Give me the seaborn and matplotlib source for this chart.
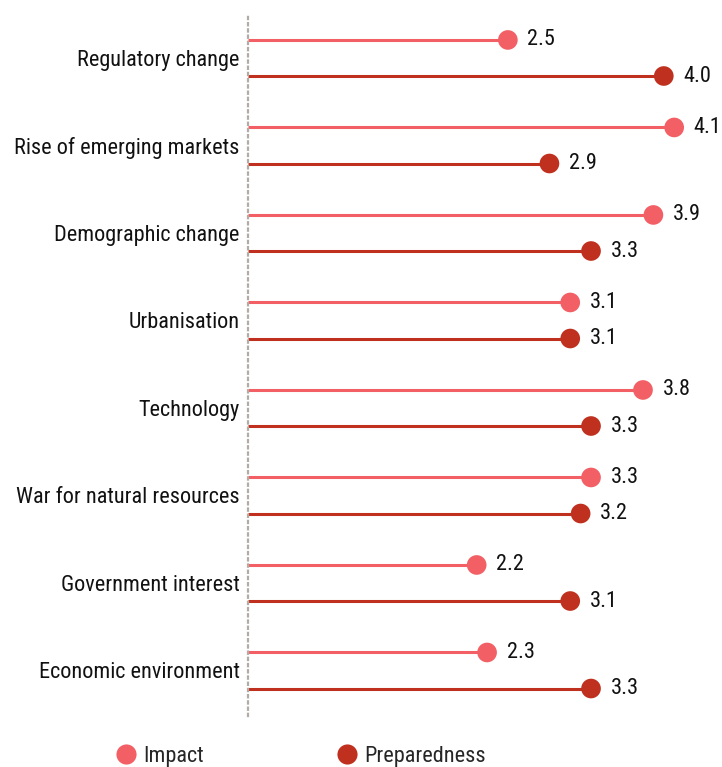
import matplotlib
matplotlib.use("Agg")
import matplotlib.pyplot as plt
from matplotlib import font_manager
from matplotlib.lines import Line2D
import seaborn as sns
import pandas as pd
import numpy as np

categories = ["Regulatory change", "Rise of emerging markets", "Demographic change",
              "Urbanisation", "Technology", "War for natural resources",
              "Government interest", "Economic environment"]
impact = [2.5, 4.1, 3.9, 3.1, 3.8, 3.3, 2.2, 2.3]
preparedness = [4.0, 2.9, 3.3, 3.1, 3.3, 3.2, 3.1, 3.3]
series_names = ["Impact", "Preparedness"]
colors = {"Impact": "#F25F65", "Preparedness": "#C0301F"}

sns.set_theme(style="white")
avail = {f.name for f in font_manager.fontManager.ttflist}
fam = [f for f in ["Liberation Sans Narrow", "Roboto Condensed", "Roboto", "DejaVu Sans"] if f in avail]
plt.rcParams["font.family"] = fam

rows = []
for i, c in enumerate(categories):
    rows.append({"cat": c, "pos": i - 0.206, "value": impact[i], "series": "Impact"})
    rows.append({"cat": c, "pos": i + 0.206, "value": preparedness[i], "series": "Preparedness"})
df = pd.DataFrame(rows)

fig = plt.figure(figsize=(7.22, 7.67), dpi=100)
ax = fig.add_axes([248 / 722, 1 - 716 / 767, 1 - 248 / 722, (716 - 13) / 767])

for s in series_names:
    d = df[df.series == s]
    ax.hlines(d["pos"], 0, d["value"], color=colors[s], lw=2.2, zorder=1)

sns.scatterplot(data=df, x="value", y="pos", hue="series", palette=colors,
                s=200, edgecolor="none", legend=False, ax=ax, zorder=3)

for _, r in df.iterrows():
    ax.annotate(f"{r.value:.1f}", (r.value, r.pos), xytext=(14, 0),
                textcoords="offset points", va="center", ha="left",
                fontsize=16, color="#111111")

ax.set_xlim(0, 4.56)
ax.set_ylim(7.52, -0.514)
ax.set_yticks(range(len(categories)))
ax.set_yticklabels(categories, fontsize=16, color="#111111")
ax.set_xticks([])
ax.set_xlabel("")
ax.set_ylabel("")
ax.tick_params(axis="y", length=0, pad=6)
for sp in ["top", "right", "bottom"]:
    ax.spines[sp].set_visible(False)
ax.spines["left"].set_linestyle((0, (1, 1.8)))
ax.spines["left"].set_color("#b3aba4")
ax.spines["left"].set_linewidth(1.6)

handles = [Line2D([], [], marker="o", ls="", markersize=14.5,
                  markerfacecolor=colors[s], markeredgecolor="none") for s in series_names]
fig.legend(handles, series_names, loc="center", ncol=2, frameon=False,
           bbox_to_anchor=(0.416, 0.014), fontsize=16, handletextpad=0.3,
           columnspacing=5.9, handlelength=1.0)

fig.savefig("out.png", dpi=100)
